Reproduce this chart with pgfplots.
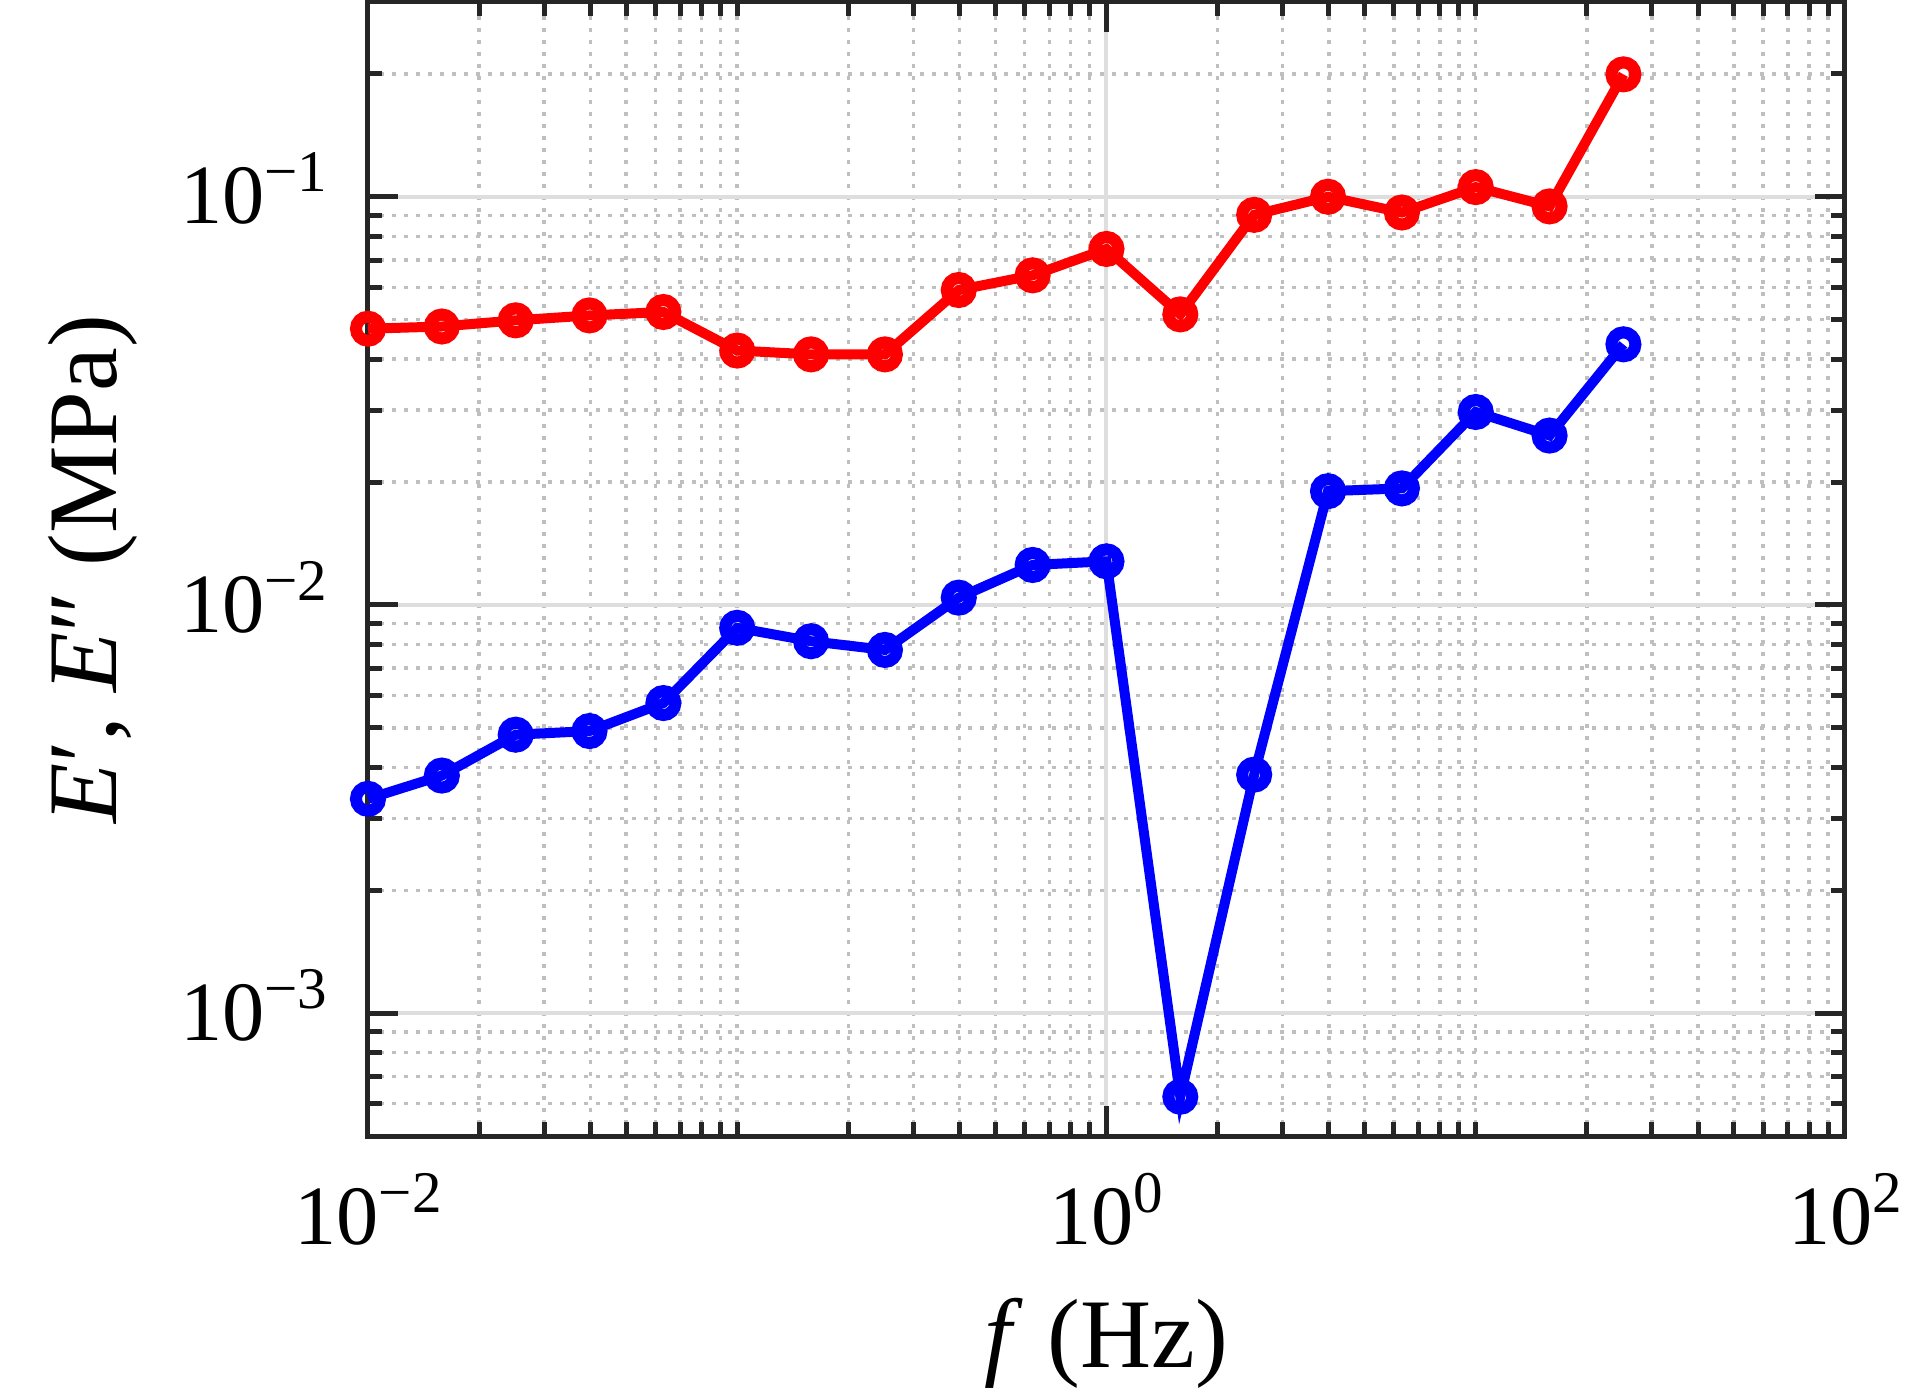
\documentclass[border=0pt]{standalone}
\usepackage{fontspec}
\setmainfont{Liberation Serif}
\usepackage{pgfplots}
\pgfplotsset{compat=1.18}
\usetikzlibrary{calc}

\newcommand{\tickfont}{\fontsize{24}{26}\selectfont}
\newcommand{\labfont}{\fontsize{28}{32}\selectfont}
% MATLAB-style power-of-ten label in the text font
\newcommand{\dec}[1]{10\raisebox{3.2mm}{\fontsize{16.8}{17}\selectfont #1}}

\begin{document}
\begin{tikzpicture}
\begin{axis}[
    xmode=log, ymode=log,
    scale only axis,
    width=147.7mm, height=113.4mm,
    xmin=0.01, xmax=100,
    ymin=5e-4, ymax=0.3,
    xtick={0.01,1,100},
    xticklabels={\dec{−2},\dec{0},\dec{2}},
    ytick={0.001,0.01,0.1},
    yticklabels={\dec{−3},\dec{−2},\dec{−1}},
    minor xtick={0.02,0.03,0.04,0.05,0.06,0.07,0.08,0.09,0.1,
                 0.2,0.3,0.4,0.5,0.6,0.7,0.8,0.9,
                 2,3,4,5,6,7,8,9,10,20,30,40,50,60,70,80,90},
    minor ytick={0.0005,0.0006,0.0007,0.0008,0.0009,
                 0.002,0.003,0.004,0.005,0.006,0.007,0.008,0.009,
                 0.02,0.03,0.04,0.05,0.06,0.07,0.08,0.09,0.2},
    tick align=inside,
    major tick length=3mm,
    minor tick length=1.4mm,
    tick style={black!85, line width=0.5mm},
    axis line style={black!85, line width=0.5mm},
    grid=both,
    major grid style={black!13, line width=0.4mm},
    minor grid style={black!25, line width=0.35mm, dash pattern=on 0.4mm off 0.8mm},
    xticklabel style={font=\tickfont, inner sep=0pt, yshift=-3.7mm},
    yticklabel style={font=\tickfont, inner sep=0pt, xshift=-4mm, yshift=0.8mm},
    xlabel={\textit{f} (Hz)},
    ylabel={\textit{E}′, \textit{E}″ (MPa)},
    xlabel style={font=\labfont, at={(axis description cs:0.5,0)},
                  anchor=north, inner sep=0pt, yshift=-16.1mm},
    ylabel style={font=\labfont, at={(axis description cs:-0.1557,0.5)},
                  anchor=south, inner sep=0pt},
    clip=false,
]

% E' (storage)
\addplot[color=red, line width=1.0mm, mark=o, mark size=1.2mm,
         mark options={line width=1.2mm}] coordinates {
    (0.01,0.0475) (0.015849,0.0481) (0.025119,0.0498) (0.039811,0.0512)
    (0.063096,0.0522) (0.1,0.0420) (0.15849,0.0411) (0.25119,0.0411)
    (0.39811,0.0591) (0.63096,0.0642) (1,0.0745) (1.5849,0.0515)
    (2.5119,0.0903) (3.9811,0.1000) (6.3096,0.0915) (10,0.1056)
    (15.849,0.0947) (25.119,0.1995)
};

% E'' (loss)
\addplot[color=blue, line width=1.0mm, mark=o, mark size=1.2mm,
         mark options={line width=1.2mm}] coordinates {
    (0.01,0.00335) (0.015849,0.00382) (0.025119,0.00481) (0.039811,0.00491)
    (0.063096,0.00575) (0.1,0.00879) (0.15849,0.00815) (0.25119,0.00776)
    (0.39811,0.01042) (0.63096,0.01253) (1,0.01279) (1.5849,0.000624)
    (2.5119,0.00384) (3.9811,0.0190) (6.3096,0.0193) (10,0.0297)
    (15.849,0.0260) (25.119,0.0435)
};

\coordinate (sw) at (rel axis cs:0,0);
\coordinate (ne) at (rel axis cs:1,1);
\end{axis}
\pgfresetboundingbox
\path ($(sw)+(-36.8mm,-26mm)$) rectangle ($(ne)+(6.1mm,0.2mm)$);
\end{tikzpicture}
\end{document}
